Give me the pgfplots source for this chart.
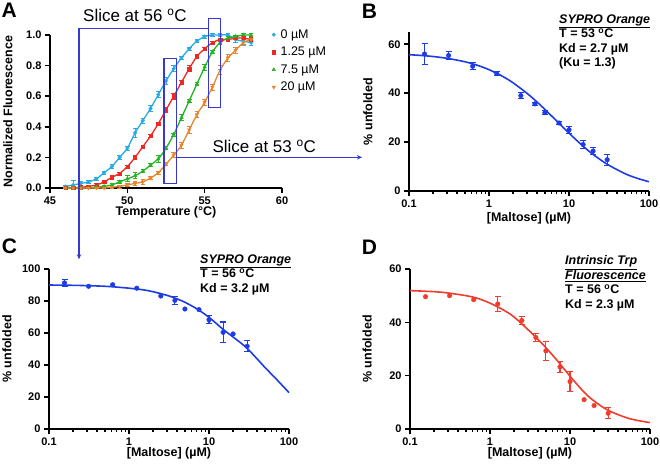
\documentclass[border=0pt]{standalone}
\usepackage{fontspec}
\setmainfont{Liberation Sans}
\usepackage{pgfplots}
\usepackage{pgfplotstable}
\pgfplotsset{compat=1.18}
\usetikzlibrary{arrows.meta}

\definecolor{cblue}{RGB}{41,171,226}
\definecolor{cred}{RGB}{237,41,36}
\definecolor{cgreen}{RGB}{34,181,34}
\definecolor{corange}{RGB}{232,133,43}
\definecolor{dblue}{RGB}{30,60,230}
\definecolor{dred}{RGB}{240,60,45}
\definecolor{sline}{RGB}{55,55,210}

\pgfplotstableread{
T v e
46 0.01 0.01
46.5 0.02 0.03
47 0.03 0.01
47.5 0.04 0.01
48 0.06 0.01
48.5 0.10 0.01
49 0.14 0.015
49.5 0.20 0.015
50 0.26 0.015
50.5 0.36 0.03
51 0.44 0.015
51.5 0.52 0.02
52 0.61 0.02
52.5 0.70 0.02
53 0.78 0.02
53.5 0.85 0.01
54 0.91 0.01
54.5 0.96 0.01
55 0.99 0.01
55.5 1.00 0.01
56 1.00 0.01
56.5 1.00 0.01
57 0.97 0.02
57.5 0.96 0.02
58 0.95 0.015
}\tblue
\pgfplotstableread{
T v e
46 0.00 0.005
46.5 0.00 0.005
47 0.005 0.005
47.5 0.01 0.005
48 0.02 0.01
48.5 0.04 0.01
49 0.07 0.01
49.5 0.095 0.01
50 0.14 0.01
50.5 0.20 0.015
51 0.27 0.01
51.5 0.34 0.01
52 0.42 0.01
52.5 0.51 0.015
53 0.60 0.02
53.5 0.69 0.01
54 0.78 0.02
54.5 0.86 0.01
55 0.91 0.01
55.5 0.95 0.01
56 0.97 0.01
56.5 0.97 0.01
57 0.98 0.01
57.5 0.98 0.01
58 0.97 0.015
}\tred
\pgfplotstableread{
T v e
46 0.00 0.003
46.5 0.00 0.003
47 0.00 0.003
47.5 0.00 0.003
48 0.005 0.005
48.5 0.01 0.005
49 0.02 0.01
49.5 0.04 0.01
50 0.06 0.02
50.5 0.08 0.02
51 0.11 0.01
51.5 0.15 0.01
52 0.19 0.02
52.5 0.26 0.01
53 0.35 0.01
53.5 0.46 0.02
54 0.57 0.01
54.5 0.68 0.01
55 0.79 0.02
55.5 0.89 0.01
56 0.95 0.01
56.5 0.98 0.01
57 0.99 0.01
57.5 1.00 0.01
58 1.00 0.01
}\tgreen
\pgfplotstableread{
T v e
46 0.00 0.003
46.5 0.00 0.003
47 0.00 0.003
47.5 0.00 0.003
48 0.00 0.003
48.5 0.00 0.003
49 0.005 0.005
49.5 0.01 0.01
50 0.02 0.01
50.5 0.03 0.01
51 0.04 0.015
51.5 0.065 0.01
52 0.10 0.01
52.5 0.155 0.01
53 0.215 0.015
53.5 0.28 0.02
54 0.38 0.02
54.5 0.48 0.02
55 0.56 0.02
55.5 0.66 0.02
56 0.77 0.03
56.5 0.85 0.02
57 0.90 0.02
57.5 0.95 0.02
58 0.97 0.01
}\torange

\pgfplotsset{
  prism/.style={
    scale only axis,
    anchor=south west,
    axis lines*=left,
    axis line style={line width=1.8pt},
    xtick align=outside, ytick align=outside,
    major tick length=5pt,
    minor tick length=2.8pt,
    tick style={black, line width=1.6pt},
    minor tick style={line width=1.4pt, black},
    tick label style={font=\bfseries\fontsize{11}{13}\selectfont},
    label style={font=\bfseries\fontsize{12.5}{14}\selectfont},
    /pgf/number format/assume math mode=true,
    clip=false,
  },
}

\begin{document}
\begin{tikzpicture}
\useasboundingbox (0,0) rectangle (660pt,463pt);

% ---------- Panel A ----------
\begin{axis}[prism, at={(50pt,275pt)}, width=232pt, height=153pt,
  xmin=45, xmax=60, ymin=0, ymax=1,
  xtick={45,50,55,60}, ytick={0,0.2,0.4,0.6,0.8,1},
  yticklabels={0.0,0.2,0.4,0.6,0.8,1.0},
  xlabel={Temperature (°C)}, ylabel={Normalized Fluorescence},
  xlabel style={at={(axis description cs:0.5,-0.157)}, anchor=center},
  ylabel style={at={(axis description cs:-0.181,0.5)}, anchor=center},
  legend style={draw=none, fill=none, at={(0.956,1.05)}, anchor=north west,
    font=\fontsize{12.5}{14}\selectfont, row sep=3.3pt, inner sep=0pt,
    /tikz/every odd column/.append style={column sep=3pt}},
  legend cell align=left]
\addplot[cblue, line width=1.3pt, smooth, forget plot] table[x=T,y=v]{\tblue};
\addplot[cblue, only marks, mark=*, mark size=1.8pt,
  error bars/.cd, y dir=both, y explicit, error bar style={line width=0.8pt},
  error mark options={rotate=90, line width=0.8pt, mark size=2.3pt}] table[x=T,y=v,y error=e]{\tblue};
\addlegendentry{0 µM}
\addplot[cred, line width=1.3pt, smooth, forget plot] table[x=T,y=v]{\tred};
\addplot[cred, only marks, mark=square*, mark size=1.6pt,
  error bars/.cd, y dir=both, y explicit, error bar style={line width=0.8pt},
  error mark options={rotate=90, line width=0.8pt, mark size=2.3pt}] table[x=T,y=v,y error=e]{\tred};
\addlegendentry{1.25 µM}
\addplot[cgreen, line width=1.3pt, smooth, forget plot] table[x=T,y=v]{\tgreen};
\addplot[cgreen, only marks, mark=triangle*, mark size=2pt,
  error bars/.cd, y dir=both, y explicit, error bar style={line width=0.8pt},
  error mark options={rotate=90, line width=0.8pt, mark size=2.3pt}] table[x=T,y=v,y error=e]{\tgreen};
\addlegendentry{7.5 µM}
\addplot[corange, line width=1.3pt, smooth, forget plot] table[x=T,y=v]{\torange};
\addplot[corange, only marks, mark=triangle*, mark options={rotate=180}, mark size=2pt,
  error bars/.cd, y dir=both, y explicit, error bar style={line width=0.8pt},
  error mark options={rotate=90, line width=0.8pt, mark size=2.3pt}] table[x=T,y=v,y error=e]{\torange};
\addlegendentry{20 µM}
\end{axis}

% ---------- Panel B ----------
\begin{axis}[prism, xmode=log, xmin=0.1, xmax=100,
  xtick={0.1,1,10,100}, xticklabels={0.1,1,10,100},
  minor xtick={0.2,0.3,0.4,0.5,0.6,0.7,0.8,0.9,2,3,4,5,6,7,8,9,20,30,40,50,60,70,80,90},
  xlabel={[Maltose] (µM)}, ylabel={\% unfolded},
  at={(409pt,272pt)}, width=240pt, height=159pt,
  ymin=0, ymax=65, ytick={0,20,40,60},
  xlabel style={at={(axis description cs:0.5,-0.17)}, anchor=center},
  ylabel style={at={(axis description cs:-0.171,0.5)}, anchor=center}]
\addplot[dblue, line width=1.6pt, smooth] coordinates {
(0.1,55.73) (0.15,55.35) (0.2,54.97) (0.3,54.24) (0.5,52.83) (0.7,51.49)
(1,49.61) (1.5,46.76) (2,44.22) (3,39.88) (4,36.32) (5,33.34) (7,28.65)
(10,23.65) (15,18.32) (20,14.96) (30,10.94) (50,7.11) (70,5.27) (100,3.79)};
\addplot[dblue, only marks, mark=*, mark size=2.3pt,
  error bars/.cd, y dir=both, y explicit, error bar style={line width=1.1pt},
  error mark options={rotate=90, line width=1.1pt, mark size=3pt}] coordinates {
(0.15625,56) +- (0,4.2)
(0.3125,55.4) +- (0,1.8)
(0.625,51) +- (0,1.5)
(1.25,48) +- (0,0.7)
(2.5,39) +- (0,1.2)
(3.75,35.6) +- (0,0.6)
(5,32) +- (0,0.8)
(7.5,27.8) +- (0,0.5)
(10,25) +- (0,1.5)
(15,19) +- (0,1.5)
(20,16.3) +- (0,1.5)
(30,12.8) +- (0,2.2)};
\end{axis}

% ---------- Panel C ----------
\begin{axis}[prism, xmode=log, xmin=0.1, xmax=100,
  xtick={0.1,1,10,100}, xticklabels={0.1,1,10,100},
  minor xtick={0.2,0.3,0.4,0.5,0.6,0.7,0.8,0.9,2,3,4,5,6,7,8,9,20,30,40,50,60,70,80,90},
  xlabel={[Maltose] (µM)}, ylabel={\% unfolded},
  at={(49pt,34pt)}, width=240pt, height=160pt,
  ymin=0, ymax=100, ytick={0,20,40,60,80,100},
  xlabel style={at={(axis description cs:0.5,-0.153)}, anchor=center},
  ylabel style={at={(axis description cs:-0.175,0.5)}, anchor=center}]
\addplot[dblue, line width=1.6pt, smooth] coordinates {
(0.1,90) (0.2,89.8) (0.3,89.6) (0.5,89.2) (0.7,88.7) (1,88) (1.5,87) (2,85.8)
(3,83.5) (4,81.3) (5,79.2) (7,75.2) (10,69.8) (15,62.3) (20,57.5) (30,50.4)
(50,38.5) (70,31) (100,22.7)};
\addplot[dblue, only marks, mark=*, mark size=2.3pt,
  error bars/.cd, y dir=both, y explicit, error bar style={line width=1.1pt},
  error mark options={rotate=90, line width=1.1pt, mark size=3pt}] coordinates {
(0.15625,91.3) +- (0,2)
(3.75,80.4) +- (0,2.5)
(10,68.3) +- (0,2.5)
(15,60.4) +- (0,6.5)
(30,51.7) +- (0,3.5)};
\addplot[dblue, only marks, mark=*, mark size=2.3pt] coordinates {
(0.3125,89.2) (0.625,90.2) (1.25,88) (2.5,83.1) (5,75) (7.5,74.6) (20,59.4)};
\end{axis}

% ---------- Panel D ----------
\begin{axis}[prism, xmode=log, xmin=0.1, xmax=100,
  xtick={0.1,1,10,100}, xticklabels={0.1,1,10,100},
  minor xtick={0.2,0.3,0.4,0.5,0.6,0.7,0.8,0.9,2,3,4,5,6,7,8,9,20,30,40,50,60,70,80,90},
  xlabel={[Maltose] (µM)}, ylabel={\% unfolded},
  at={(410pt,34pt)}, width=240pt, height=160pt,
  ymin=0, ymax=60, ytick={0,20,40,60},
  xlabel style={at={(axis description cs:0.5,-0.153)}, anchor=center},
  ylabel style={at={(axis description cs:-0.179,0.5)}, anchor=center}]
\addplot[dred, line width=1.6pt, smooth] coordinates {
(0.1,51.9) (0.2,51.5) (0.3,51.0) (0.5,50.0) (0.7,49.0) (1,47.2) (1.5,44.5)
(2,42) (3,37.2) (4,33.5) (5,30.5) (7,25.5) (10,19.8) (15,13.8) (20,10.5)
(30,7.0) (50,4.3) (70,3.2) (100,2.4)};
\addplot[dred, only marks, mark=*, mark size=2.3pt,
  error bars/.cd, y dir=both, y explicit, error bar style={line width=1.1pt},
  error mark options={rotate=90, line width=1.1pt, mark size=3pt}] coordinates {
(1.25,46.9) +- (0,2.7)
(2.5,40.7) +- (0,1.5)
(3.75,34.3) +- (0,1.5)
(5,29.3) +- (0,3.5)
(7.5,23.3) +- (0,2)
(10,17.8) +- (0,3.8)
(30,5.9) +- (0,2)};
\addplot[dred, only marks, mark=*, mark size=2.3pt] coordinates {
(0.15625,49.6) (0.3125,50.0) (0.625,48.5) (15,11.0) (20,8.8)};
\end{axis}

% ---------- Panel letters ----------
\begin{scope}[every node/.style={anchor=north west, inner sep=0pt, font=\bfseries\fontsize{21}{24}\selectfont}]
\node at (1.5pt,460pt) {A};
\node at (361.7pt,459pt) {B};
\node at (1.7pt,224.7pt) {C};
\node at (361.7pt,223pt) {D};
\end{scope}

% ---------- Annotations ----------
\begin{scope}[every node/.style={anchor=north west, inner sep=0pt, align=left, font=\bfseries\fontsize{12.5}{14.5}\selectfont}]
\node at (559pt,448.5pt) {\underline{\textit{SYPRO Orange}}\\T = 53 \textsuperscript{o}C\\Kd = 2.7 µM\\(Ku = 1.3)};
\node at (200pt,208.5pt) {\underline{\textit{SYPRO Orange}}\\T = 56 \textsuperscript{o}C\\Kd = 3.2 µM};
\node at (565pt,207.5pt) {\underline{\textit{Intrinsic Trp}}\\\underline{\textit{Fluorescence}}\\T = 56 \textsuperscript{o}C\\Kd = 2.3 µM};
\end{scope}

\node[anchor=base west, inner sep=0pt, font=\fontsize{17}{20}\selectfont] at (83pt,441.3pt) {Slice at 56 \textsuperscript{o}C};
\node[anchor=base west, inner sep=0pt, font=\fontsize{17}{20}\selectfont] at (212.3pt,310.7pt) {Slice at 53 \textsuperscript{o}C};

\draw[sline, line width=1.4pt] (208.3pt,444.7pt) rectangle (220.7pt,355.7pt);
\draw[sline, line width=1.4pt] (164pt,404.7pt) rectangle (176.7pt,279.7pt);
\draw[sline, line width=1.3pt, -{Stealth[length=5pt,width=4.5pt]}] (208.3pt,434.7pt) -- (79pt,434.7pt) -- (79pt,203.7pt);
\draw[sline, line width=1.3pt, -{Stealth[length=5pt,width=4.5pt]}] (176.7pt,305.7pt) -- (362pt,305.7pt);
\end{tikzpicture}
\end{document}
